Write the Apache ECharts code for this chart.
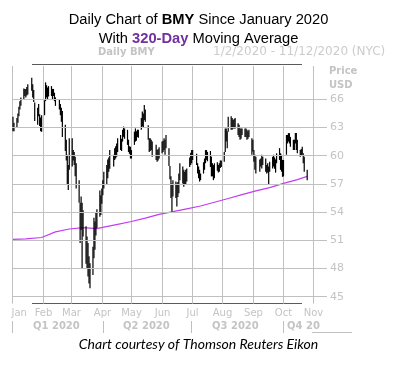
<!DOCTYPE html>
<html>
<head>
<meta charset="utf-8">
<script src="https://cdn.jsdelivr.net/npm/echarts@6/dist/echarts.min.js"></script>
<style>
html,body{margin:0;padding:0;background:#fff;}
#c{width:397px;height:369px;}
</style>
</head>
<body>
<div id="c"></div>
<script>
// ---- data ----
const dates = ['2020-01-02','2020-01-03','2020-01-06','2020-01-07','2020-01-08','2020-01-09','2020-01-10','2020-01-13','2020-01-14','2020-01-15','2020-01-16','2020-01-17','2020-01-21','2020-01-22','2020-01-23','2020-01-24','2020-01-27','2020-01-28','2020-01-29','2020-01-30','2020-01-31',
'2020-02-03','2020-02-04','2020-02-05','2020-02-06','2020-02-07','2020-02-10','2020-02-11','2020-02-12','2020-02-13','2020-02-14','2020-02-18','2020-02-19','2020-02-20','2020-02-21','2020-02-24','2020-02-25','2020-02-26','2020-02-27','2020-02-28',
'2020-03-02','2020-03-03','2020-03-04','2020-03-05','2020-03-06','2020-03-09','2020-03-10','2020-03-11','2020-03-12','2020-03-13','2020-03-16','2020-03-17','2020-03-18','2020-03-19','2020-03-20','2020-03-23','2020-03-24','2020-03-25','2020-03-26','2020-03-27','2020-03-30','2020-03-31',
'2020-04-01','2020-04-02','2020-04-03','2020-04-06','2020-04-07','2020-04-08','2020-04-09','2020-04-13','2020-04-14','2020-04-15','2020-04-16','2020-04-17','2020-04-20','2020-04-21','2020-04-22','2020-04-23','2020-04-24','2020-04-27','2020-04-28','2020-04-29','2020-04-30',
'2020-05-01','2020-05-04','2020-05-05','2020-05-06','2020-05-07','2020-05-08','2020-05-11','2020-05-12','2020-05-13','2020-05-14','2020-05-15','2020-05-18','2020-05-19','2020-05-20','2020-05-21','2020-05-22','2020-05-26','2020-05-27','2020-05-28','2020-05-29',
'2020-06-01','2020-06-02','2020-06-03','2020-06-04','2020-06-05','2020-06-08','2020-06-09','2020-06-10','2020-06-11','2020-06-12','2020-06-15','2020-06-16','2020-06-17','2020-06-18','2020-06-19','2020-06-22','2020-06-23','2020-06-24','2020-06-25','2020-06-26','2020-06-29','2020-06-30',
'2020-07-01','2020-07-02','2020-07-06','2020-07-07','2020-07-08','2020-07-09','2020-07-10','2020-07-13','2020-07-14','2020-07-15','2020-07-16','2020-07-17','2020-07-20','2020-07-21','2020-07-22','2020-07-23','2020-07-24','2020-07-27','2020-07-28','2020-07-29','2020-07-30','2020-07-31',
'2020-08-03','2020-08-04','2020-08-05','2020-08-06','2020-08-07','2020-08-10','2020-08-11','2020-08-12','2020-08-13','2020-08-14','2020-08-17','2020-08-18','2020-08-19','2020-08-20','2020-08-21','2020-08-24','2020-08-25','2020-08-26','2020-08-27','2020-08-28','2020-08-31',
'2020-09-01','2020-09-02','2020-09-03','2020-09-04','2020-09-08','2020-09-09','2020-09-10','2020-09-11','2020-09-14','2020-09-15','2020-09-16','2020-09-17','2020-09-18','2020-09-21','2020-09-22','2020-09-23','2020-09-24','2020-09-25','2020-09-28','2020-09-29','2020-09-30',
'2020-10-01','2020-10-02','2020-10-05','2020-10-06','2020-10-07','2020-10-08','2020-10-09','2020-10-12','2020-10-13','2020-10-14','2020-10-15','2020-10-16','2020-10-19','2020-10-20','2020-10-21','2020-10-22','2020-10-23','2020-10-26'];

const highs = [64.15,63.5,64.0,64.5,65.2,65.8,66.2,67.15,67.1,67.1,67.3,67.6,68.3,67.6,67.0,65.65,65.1,65.5,64.4,64.05,64.3,
65.9,67.8,67.5,67.25,67.4,67.4,67.1,67.1,66.7,66.2,66.0,65.5,65.1,64.75,63.3,61.7,60.1,59.0,61.85,
61.85,60.6,60.4,59.9,59.2,57.4,55.0,55.65,55.0,54.2,52.5,51.4,50.7,49.3,48.55,50.3,53.4,53.0,54.0,54.3,56.3,55.8,
56.5,57.4,58.3,59.0,59.6,59.8,60.6,60.1,60.8,61.0,61.3,61.85,62.2,61.8,62.75,63.1,62.9,62.75,61.7,61.0,60.95,
60.6,62.55,62.9,62.6,62.75,62.75,64.0,64.7,64.5,65.4,64.9,63.25,61.85,61.85,61.7,61.5,61.15,60.6,60.7,60.9,
61.5,61.6,61.85,61.7,62.2,60.8,58.9,57.8,57.05,57.4,57.25,57.05,57.2,58.1,59.2,58.85,58.5,58.3,58.5,58.65,59.8,60.3,
60.6,60.6,60.2,59.2,58.85,58.5,58.1,59.3,59.7,60.6,60.6,60.4,60.5,59.9,59.2,59.0,59.2,59.3,59.0,59.2,59.5,59.5,
60.4,62.9,62.9,62.6,64.15,64.2,64.0,63.8,63.9,64.0,63.45,63.3,62.9,62.9,62.9,62.9,62.9,62.75,62.6,62.75,61.85,
61.7,60.6,60.1,59.9,59.6,59.7,60.1,59.9,59.7,59.0,59.2,58.85,59.35,59.9,60.1,59.8,59.6,60.25,60.8,60.25,60.1,
59.55,59.55,62.2,62.2,62.4,62.4,62.0,61.7,61.7,62.4,62.4,61.7,60.6,60.7,60.95,60.25,59.9,58.5];

const lows = [62.6,62.6,63.0,63.5,64.2,64.9,65.3,66.0,66.35,66.2,66.4,66.5,66.9,66.2,65.7,63.7,63.3,64.2,63.15,62.6,62.55,
64.3,65.8,66.2,66.0,66.3,66.35,66.0,66.35,65.8,65.3,64.9,64.3,63.6,62.0,60.5,59.5,57.0,56.35,58.5,
58.85,59.5,59.0,57.8,56.5,55.0,50.7,52.1,48.0,51.4,48.5,48.0,47.15,46.4,45.9,47.3,49.1,50.0,51.5,52.3,53.5,53.7,
54.9,55.8,56.5,57.0,57.6,58.3,58.6,58.85,59.55,59.7,59.9,60.4,60.6,60.5,61.5,62.0,61.8,61.15,60.4,60.2,59.7,
59.7,61.15,61.5,61.6,62.0,61.9,62.75,63.1,63.0,63.8,63.6,61.7,60.4,60.5,60.6,59.9,59.55,59.35,59.5,59.7,
60.25,60.4,60.6,60.1,60.8,58.9,57.5,55.5,54.05,55.65,55.5,54.6,55.6,56.0,57.4,57.05,56.7,56.9,57.0,57.25,58.8,59.0,
59.2,59.55,59.0,58.1,57.6,57.25,57.4,58.1,58.5,59.2,59.55,59.4,58.8,57.8,57.8,57.4,57.6,58.4,58.2,58.3,58.7,58.8,
59.35,60.4,61.5,60.8,62.55,62.75,62.75,62.9,62.9,62.9,62.2,62.0,61.7,61.8,62.2,62.0,62.0,61.7,61.8,62.0,60.1,
60.45,59.35,58.5,58.1,58.3,58.85,58.65,59.0,58.3,58.1,58.2,56.9,58.3,58.65,58.85,58.6,58.2,59.2,59.55,58.5,58.3,
57.75,57.8,60.1,61.3,61.5,61.3,60.95,60.6,60.6,61.3,60.6,60.25,59.9,60.0,60.1,59.2,58.3,57.4];

const maDates = ['2020-01-02','2020-01-15','2020-01-31','2020-02-14','2020-02-28','2020-03-13','2020-03-20','2020-03-27','2020-04-03','2020-04-17','2020-05-01','2020-05-15','2020-05-29','2020-06-12','2020-06-26','2020-07-10','2020-07-24','2020-08-07','2020-08-21','2020-09-04','2020-09-18','2020-10-02','2020-10-16','2020-10-26'];
const maValues = [51.1,51.15,51.3,51.9,52.2,52.35,52.3,52.25,52.4,52.7,53.0,53.35,53.75,54.05,54.35,54.65,55.05,55.45,55.85,56.25,56.6,57.05,57.45,57.8];

const priceTicks = [45,48,51,54,57,60,63,66];
const monthStarts = ['2020-01-01','2020-02-01','2020-03-01','2020-04-01','2020-05-01','2020-06-01','2020-07-01','2020-08-01','2020-09-01','2020-10-01','2020-11-01'];
const monthNames = ['Jan','Feb','Mar','Apr','May','Jun','Jul','Aug','Sep','Oct','Nov','Dec'];
const quarterLabels = ['Q1 2020','Q2 2020','Q3 2020','Q4 20'];

// ---- build ----
function ts(s){ const p = s.split('-'); return new Date(+p[0], +p[1]-1, +p[2]).getTime(); }
const barData = dates.map((d,i)=>[ts(d), lows[i], highs[i]]);
const maData = maDates.map((d,i)=>[ts(d), maValues[i]]);
const monthData = monthStarts.map((d,i)=>[ts(d), i]);
const Y_MIN = 45, Y_MAX = 69.54;

const grey = '#c4c4c4';
const gridCol = '#c0c0c0';
const lab = 'DejaVu Sans';
const TF = 14.7;

const chart = echarts.init(document.getElementById('c'), null, {renderer:'canvas'});
chart.setOption({
  animation:false,
  backgroundColor:'#fff',
  title:{
    text:'{n|Daily Chart of }{b|BMY}{n| Since January 2020}\n{n|With }{p|320-Day}{n| Moving Average}',
    left:'center', top:6,
    textStyle:{
      fontWeight:'normal', fontFamily:'Liberation Sans', fontSize:TF, color:'#000',
      rich:{
        n:{fontFamily:'Liberation Sans', fontSize:TF, fontWeight:'normal', color:'#000', lineHeight:18.5},
        b:{fontFamily:'Liberation Sans', fontSize:TF, fontWeight:'bold', color:'#000', lineHeight:18.5},
        p:{fontFamily:'Liberation Sans', fontSize:TF, fontWeight:'bold', color:'#7030a0', lineHeight:18.5}
      }
    }
  },
  grid:{left:12, top:66, width:310, height:230.7, containLabel:false},
  xAxis:{
    type:'time',
    min: ts('2020-01-01'), max: ts('2020-11-10'),
    axisLine:{show:false}, axisTick:{show:false}, axisLabel:{show:false}, splitLine:{show:false}
  },
  yAxis:{
    type:'value', position:'right', min:Y_MIN, max:Y_MAX,
    axisLine:{show:false},
    axisTick:{show:true, length:5, lineStyle:{color:gridCol}, customValues: priceTicks},
    axisLabel:{customValues: priceTicks, color:grey, fontFamily:lab, fontSize:11, margin:8},
    splitLine:{show:false}
  },
  series:[
    {
      type:'custom', z:1, data:monthData, clip:false, silent:true,
      encode:{x:0},
      renderItem:function(params, api){
        const t = api.value(0);
        const top = api.coord([t, Y_MAX]);
        const bot = api.coord([t, Y_MIN]);
        const x = Math.round(top[0]) + 0.5;
        const i = api.value(1);
        return {type:'group', children:[
          {type:'line', shape:{x1:x, y1:top[1], x2:x, y2:bot[1]+7}, style:{stroke:gridCol, lineWidth:1}},
          {type:'text', x: i===0 ? x-1 : x, y: bot[1]+12,
            style:{text: monthNames[new Date(t).getMonth()], font:'10px "DejaVu Sans"', fill:grey,
              align: i===0 ? 'left' : 'center', verticalAlign:'top'}}
        ]};
      }
    },
    {
      type:'line', data:maData, symbol:'none', z:2,
      lineStyle:{color:'#c43cf2', width:1.2},
      markLine:{silent:true, symbol:['none','none'], label:{show:false},
        lineStyle:{color:gridCol, width:1, type:'solid'},
        data: priceTicks.map(v=>({yAxis:v}))}
    },
    {
      type:'custom', z:4, data:barData,
      encode:{x:0, y:[1,2]},
      renderItem:function(params, api){
        const x = api.value(0);
        const p1 = api.coord([x, api.value(2)]);
        const p2 = api.coord([x, api.value(1)]);
        return {type:'line', shape:{x1:p1[0], y1:p1[1], x2:p2[0], y2:p2[1]},
          style:{stroke:'#000', lineWidth:1.2}};
      }
    }
  ],
  graphic:[
    {type:'text', left:98, top:47, style:{text:'Daily BMY', font:'bold 10px "DejaVu Sans"', fill:grey}},
    {type:'text', left:213, top:46, style:{text:'1/2/2020 - 11/12/2020 (NYC)', font:'12px "DejaVu Sans"', fill:'#cccccc'}},
    {type:'line', shape:{x1:32, y1:64.5, x2:302, y2:64.5}, style:{stroke:'#5a5a5a', lineWidth:1}},
    {type:'line', shape:{x1:32, y1:303.5, x2:302, y2:303.5}, style:{stroke:'#5a5a5a', lineWidth:1}},
    {type:'text', left:329, top:66, style:{text:'Price', font:'bold 10px "DejaVu Sans"', fill:grey}},
    {type:'text', left:329, top:80, style:{text:'USD', font:'bold 10px "DejaVu Sans"', fill:grey}},
    {type:'text', left:33, top:321, style:{text:quarterLabels[0], font:'bold 10px "DejaVu Sans"', fill:grey}},
    {type:'text', left:123, top:321, style:{text:quarterLabels[1], font:'bold 10px "DejaVu Sans"', fill:grey}},
    {type:'text', left:212, top:321, style:{text:quarterLabels[2], font:'bold 10px "DejaVu Sans"', fill:grey}},
    {type:'text', left:287, top:321, style:{text:quarterLabels[3], font:'bold 10px "DejaVu Sans"', fill:grey}},
    {type:'line', shape:{x1:12.5, y1:321, x2:12.5, y2:333}, style:{stroke:gridCol, lineWidth:1}},
    {type:'line', shape:{x1:103.5, y1:321, x2:103.5, y2:333}, style:{stroke:gridCol, lineWidth:1}},
    {type:'line', shape:{x1:191.5, y1:321, x2:191.5, y2:333}, style:{stroke:gridCol, lineWidth:1}},
    {type:'line', shape:{x1:283.5, y1:321, x2:283.5, y2:333}, style:{stroke:gridCol, lineWidth:1}},
    {type:'line', shape:{x1:312, y1:332.5, x2:352, y2:332.5}, style:{stroke:gridCol, lineWidth:1}},
    {type:'text', left:'center', top:337, style:{text:'Chart courtesy of Thomson Reuters Eikon', font:'italic 14px Lato', fill:'#000'}}
  ]
});
</script>
</body>
</html>
